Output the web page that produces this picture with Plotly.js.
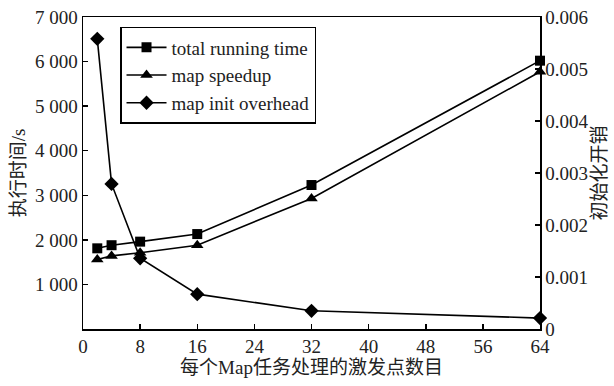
<!DOCTYPE html>
<html><head><meta charset="utf-8">
<script src="https://cdn.plot.ly/plotly-3.0.1.min.js"></script>
<style>html,body{margin:0;padding:0;background:#fff}</style>
</head><body>
<div id="chart" style="width:614px;height:386px"></div>
<script>
const xPoints = [2, 4, 8, 16, 32, 64];
const totalRunningTime = [1810, 1880, 1960, 2130, 3230, 6020];
const mapSpeedup = [1560, 1640, 1710, 1880, 2930, 5770];
const mapInitOverhead = [0.00558, 0.00279, 0.00136, 0.00067, 0.00035, 0.00021];
const seriesNames = ['total running time', 'map speedup', 'map init overhead'];
const xTicks = [0, 8, 16, 24, 32, 40, 48, 56, 64];
const yLeftTicks = [1000, 2000, 3000, 4000, 5000, 6000, 7000];
const yRightTicks = [0, 0.001, 0.002, 0.003, 0.004, 0.005, 0.006];
const xTitle = '每个Map任务处理的激发点数目';
const yLeftTitle = '执行时间/s';
const yRightTitle = '初始化开销';

const font = "Liberation Serif, Noto Sans CJK SC, serif";
const fs = 19;
const line = {color: '#000', width: 1.6};
const traces = [
  {x: xPoints, y: totalRunningTime, name: seriesNames[0], mode: 'lines+markers', line: line,
   marker: {symbol: 'square', size: 10, color: '#000'}, cliponaxis: false},
  {x: xPoints, y: mapSpeedup, name: seriesNames[1], mode: 'lines+markers', line: line,
   marker: {symbol: 'triangle-up', size: 11, color: '#000'}, cliponaxis: false},
  {x: xPoints, y: mapInitOverhead, name: seriesNames[2], mode: 'lines+markers', line: line, yaxis: 'y2',
   marker: {symbol: 'diamond', size: 11, color: '#000'}, cliponaxis: false}
];
const axisCommon = {showgrid: false, zeroline: false, showline: true, linecolor: '#000', linewidth: 1.5,
  ticks: 'inside', ticklen: 5, tickwidth: 1.5, tickcolor: '#000', tickfont: {family: font, size: fs, color: '#222'}};
const layout = {
  width: 614, height: 386,
  margin: {l: 83, r: 74, t: 17, b: 57},
  paper_bgcolor: '#fff', plot_bgcolor: '#fff',
  separators: '. ',
  font: {family: font, size: fs, color: '#222'},
  showlegend: true,
  legend: {x: 0.081, y: 0.968, xanchor: 'left', yanchor: 'top', bgcolor: '#fff', bordercolor: '#000', borderwidth: 1.5,
    font: {family: font, size: 19, color: '#222'}, tracegroupgap: 0, itemwidth: 40},
  xaxis: Object.assign({}, axisCommon, {range: [0, 64], tickvals: xTicks, mirror: true,
    title: {text: xTitle, font: {family: font, size: fs, color: '#222'}, standoff: 4}}),
  yaxis: Object.assign({}, axisCommon, {range: [0, 7000], tickvals: yLeftTicks, tickformat: ',d',
    title: {text: yLeftTitle, font: {family: font, size: fs, color: '#222'}, standoff: 4}}),
  yaxis2: Object.assign({}, axisCommon, {range: [0, 0.006], tickvals: yRightTicks, overlaying: 'y', side: 'right',
    title: {text: yRightTitle, font: {family: font, size: fs, color: '#222'}, standoff: 2}})
};
Plotly.newPlot('chart', traces, layout, {displayModeBar: false, staticPlot: true});
</script>
</body></html>
